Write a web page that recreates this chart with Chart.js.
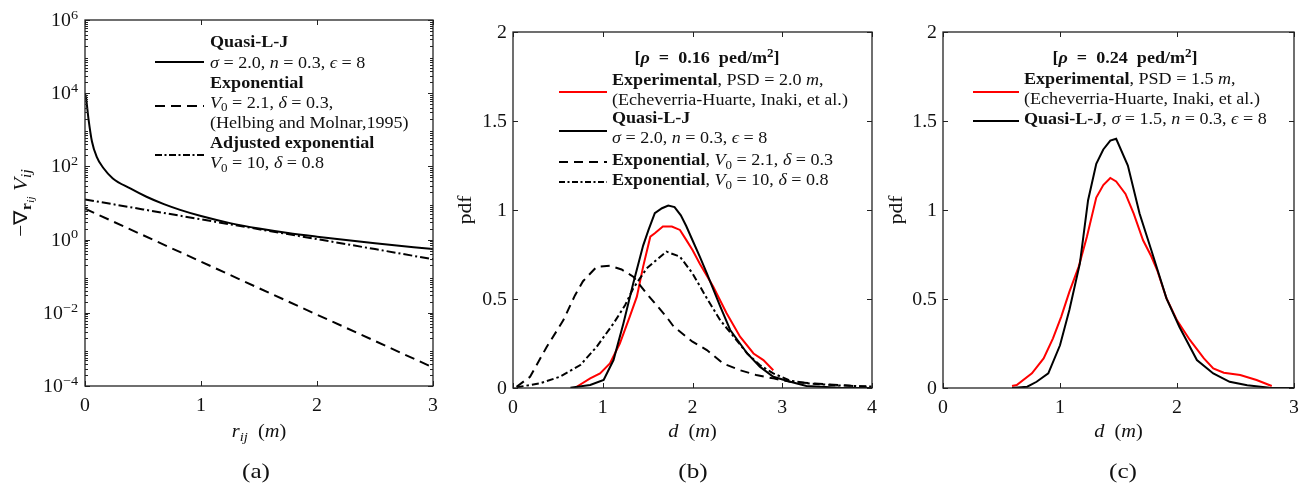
<!DOCTYPE html>
<html><head><meta charset="utf-8">
<script src="https://cdn.jsdelivr.net/npm/chart.js@4.4.0/dist/chart.umd.min.js"></script>
<style>
html,body{margin:0;padding:0;background:#fff;width:1311px;height:487px;overflow:hidden}
.p{position:absolute;top:0;height:487px}
</style></head><body>
<div class="p" style="left:0;width:440px"><canvas id="ca"></canvas></div>
<div class="p" style="left:440px;width:440px"><canvas id="cb"></canvas></div>
<div class="p" style="left:880px;width:431px"><canvas id="cc"></canvas></div>
<script>
// ---------- DATA ----------
// Panel (a): force vs distance (log y)
const rQuasiA   = [0, 0.01, 0.03, 0.06, 0.10, 0.16, 0.24, 0.39, 0.53, 0.68, 0.82, 1.00, 1.25, 1.50, 1.75, 2.00, 2.50, 3.00];
const vQuasiA   = [1e4, 7000, 2000, 480, 186, 89, 47, 25, 14.8, 9.3, 6.5, 4.4, 2.82, 2.0, 1.51, 1.2, 0.79, 0.55];
const rExpA     = [0, 0.5, 1.0, 1.5, 2.0, 2.5, 3.0];
const vExpA     = [7.0, 1.32, 0.25, 0.047, 0.0089, 0.0017, 0.00032];
const rAdjA     = [0, 0.5, 1.0, 1.5, 2.0, 2.5, 3.0];
const vAdjA     = [12.5, 6.69, 3.58, 1.92, 1.03, 0.55, 0.29];
const xTicksA   = [0, 1, 2, 3];
const yTicksA   = [1e-4, 1e-2, 1e0, 1e2, 1e4, 1e6];
const yExpLabelsA = ['−4', '−2', '0', '2', '4', '6'];

// Panel (b): rho = 0.16
const dExpB   = [0.71,0.86,0.97,1.08,1.19,1.30,1.38,1.45,1.53,1.58,1.67,1.77,1.86,1.93,2.00,2.08,2.23,2.38,2.53,2.68,2.79,2.90];
const pExpB   = [0.007,0.054,0.082,0.138,0.25,0.40,0.513,0.682,0.85,0.869,0.907,0.907,0.888,0.832,0.775,0.70,0.57,0.42,0.288,0.194,0.157,0.10];
const dQuasiB = [0.64,0.86,1.01,1.12,1.23,1.34,1.45,1.51,1.58,1.66,1.73,1.80,1.87,1.93,2.00,2.08,2.16,2.31,2.42,2.61,2.75,2.90,3.09,3.27,3.64,4.00];
const pQuasiB = [0.002,0.017,0.045,0.157,0.363,0.588,0.80,0.888,0.982,1.01,1.025,1.016,0.97,0.91,0.83,0.74,0.644,0.457,0.326,0.194,0.12,0.063,0.035,0.011,0.002,0.0];
const dE21B   = [0.04,0.19,0.375,0.56,0.69,0.78,0.93,1.08,1.21,1.34,1.49,1.71,1.79,2.00,2.16,2.34,2.53,2.71,2.90,3.09,3.46,3.94];
const pE21B   = [0.007,0.063,0.23,0.38,0.52,0.60,0.68,0.687,0.666,0.625,0.53,0.40,0.345,0.26,0.213,0.138,0.10,0.073,0.054,0.035,0.022,0.007];
const dE10B   = [0.04,0.30,0.52,0.75,0.93,1.12,1.25,1.34,1.49,1.60,1.71,1.86,2.00,2.16,2.31,2.46,2.61,2.75,2.90,3.09,3.30,3.60,4.00];
const pE10B   = [0.004,0.026,0.063,0.129,0.23,0.363,0.466,0.56,0.672,0.72,0.766,0.738,0.644,0.504,0.38,0.288,0.194,0.129,0.082,0.041,0.025,0.015,0.008];
const xTicksB = [0, 1, 2, 3, 4];
const yTicksB = [0, 0.5, 1, 1.5, 2];

// Panel (c): rho = 0.24
const dExpC   = [0.59,0.63,0.76,0.86,0.94,1.01,1.08,1.16,1.23,1.31,1.37,1.43,1.48,1.56,1.63,1.71,1.78,1.83,1.91,2.00,2.11,2.23,2.31,2.40,2.54,2.68,2.81];
const pExpC   = [0.011,0.017,0.082,0.166,0.279,0.40,0.54,0.682,0.85,1.07,1.14,1.18,1.16,1.09,0.98,0.83,0.74,0.663,0.504,0.38,0.27,0.166,0.11,0.086,0.073,0.045,0.011];
const dQuasiC = [0.59,0.72,0.80,0.90,1.00,1.08,1.17,1.24,1.31,1.37,1.43,1.48,1.58,1.68,1.78,1.91,2.02,2.17,2.31,2.45,2.60,2.79,3.00];
const pQuasiC = [0.0,0.007,0.035,0.082,0.24,0.438,0.70,1.055,1.26,1.34,1.39,1.40,1.25,0.98,0.775,0.504,0.344,0.157,0.082,0.035,0.015,0.002,0.0];
const xTicksC = [0, 1, 2, 3];
const yTicksC = [0, 0.5, 1, 1.5, 2];

// ---------- HELPERS ----------
const SERIF = '"Liberation Serif","Times New Roman",serif';
const TXT = '#111';
const SX = 1.13;
const RED = '#ff0000';
const BLK = '#000000';

function pts(xs, ys){ return xs.map((x,i)=>({x:x, y:ys[i]})); }

function segInfo(f, size){
  let s = size, dy = 0;
  if (f.indexOf('_')>=0){ s = size*0.72; dy = size*0.22; }
  if (f.indexOf('^')>=0){ s = size*0.72; dy = -size*0.40; }
  if (f.indexOf('~')>=0){ s = size*0.56; dy = size*0.36; }
  const font = (f.indexOf('i')>=0?'italic ':'') + (f.indexOf('b')>=0?'bold ':'') + s.toFixed(2)+'px '+SERIF;
  return {font:font, dy:dy};
}
function richW(ctx, segs, size, sx){
  let w = 0; ctx.save();
  for (const [t,f] of segs){ ctx.font = segInfo(f,size).font; w += ctx.measureText(t).width*sx; }
  ctx.restore(); return w;
}
function rich(ctx, x, y, segs, size, align, sx){
  sx = sx || SX;
  const w = richW(ctx, segs, size, sx);
  if (align === 'center') x -= w/2; else if (align === 'right') x -= w;
  ctx.save(); ctx.fillStyle = TXT; ctx.textBaseline = 'alphabetic'; ctx.textAlign = 'left';
  for (const [t,f] of segs){
    const si = segInfo(f,size); ctx.font = si.font;
    ctx.save(); ctx.translate(x, y+si.dy); ctx.scale(sx,1); ctx.fillText(t,0,0); ctx.restore();
    x += ctx.measureText(t).width*sx;
  }
  ctx.restore();
}
function sample(ctx, x1, x2, y, color, dash){
  ctx.save(); ctx.strokeStyle = color; ctx.lineWidth = 2; ctx.setLineDash(dash||[]);
  ctx.beginPath(); ctx.moveTo(x1,y); ctx.lineTo(x2,y); ctx.stroke(); ctx.restore();
}

const framePlugin = {
  id: 'frame',
  afterDraw(chart, args, o){
    const ctx = chart.ctx, a = chart.chartArea, xs = chart.scales.x, ys = chart.scales.y;
    ctx.save();
    ctx.strokeStyle = '#222'; ctx.lineWidth = 1;
    ctx.beginPath();
    const TL = 5, TM = 3;
    for (const v of o.xTicks){
      const px = Math.round(xs.getPixelForValue(v)) + 0.5;
      ctx.moveTo(px, a.bottom); ctx.lineTo(px, a.bottom - TL);
      ctx.moveTo(px, a.top); ctx.lineTo(px, a.top + TL);
    }
    for (const v of o.yTicks){
      const py = Math.round(ys.getPixelForValue(v)) + 0.5;
      ctx.moveTo(a.left, py); ctx.lineTo(a.left + TL, py);
      ctx.moveTo(a.right, py); ctx.lineTo(a.right - TL, py);
    }
    if (o.logMinor){
      for (let k = -4; k < 6; k++){
        for (let m = 2; m <= 9; m++){
          const py = Math.round(ys.getPixelForValue(m*Math.pow(10,k))) + 0.5;
          ctx.moveTo(a.left, py); ctx.lineTo(a.left + TM, py);
          ctx.moveTo(a.right, py); ctx.lineTo(a.right - TM, py);
        }
      }
    }
    ctx.stroke();
    ctx.lineWidth = 1.3;
    ctx.strokeRect(a.left, a.top, a.right - a.left, a.bottom - a.top);
    o.xTicks.forEach((v,i)=>{
      rich(ctx, xs.getPixelForValue(v), a.bottom + 25, o.xLabel(v,i), 18, 'center', 1.1);
    });
    o.yTicks.forEach((v,i)=>{
      rich(ctx, a.left - o.yGap, ys.getPixelForValue(v) + 6, o.yLabel(v,i), 18, 'right', 1.1);
    });
    o.decor(ctx, a);
    ctx.restore();
  }
};
Chart.register(framePlugin);

function lineDS(data, color, dash){
  return { data: data, borderColor: color, borderWidth: 2, borderDash: dash||[], pointRadius: 0,
           fill: false, tension: 0 };
}

function baseOpts(pad, xmin, xmax, yopts, frame){
  return {
    responsive: true, maintainAspectRatio: false, animation: false, devicePixelRatio: 1,
    layout: { padding: pad },
    scales: {
      x: { type: 'linear', min: xmin, max: xmax, display: false },
      y: Object.assign({ display: false }, yopts)
    },
    plugins: { legend: { display: false }, tooltip: { enabled: false }, frame: frame }
  };
}

// ---------- PANEL A ----------
const A_DASH = [10,6], A_DDOT = [9,3,2,3];
const dsQ = lineDS(pts(rQuasiA, vQuasiA), BLK, []); dsQ.cubicInterpolationMode = 'monotone';
new Chart(document.getElementById('ca'), {
  type: 'line',
  data: { datasets: [ dsQ, lineDS(pts(rExpA, vExpA), BLK, A_DASH), lineDS(pts(rAdjA, vAdjA), BLK, A_DDOT) ] },
  options: baseOpts({left:85, right:7, top:20, bottom:101}, 0, 3,
    { type: 'logarithmic', min: 1e-4, max: 1e6 },
    { xTicks: xTicksA, yTicks: yTicksA, logMinor: true, yGap: 7,
      xLabel: v => [[String(v), '']],
      yLabel: (v,i) => [['10',''], [yExpLabelsA[i], '^']],
      decor: function(ctx, a){
        ctx.save(); ctx.translate(27, (a.top + a.bottom)/2); ctx.rotate(-Math.PI/2);
        rich(ctx, 0, 0, [['−∇',''],['r','b_'],['ij','i~'],[' V','i'],['ij','i_']], 19, 'center');
        ctx.restore();
        rich(ctx, (a.left + a.right)/2, 437, [['r','i'],['ij','i_'],['  (',''],['m','i'],[')','']], 18, 'center');
        rich(ctx, 256, 478, [['(a)','']], 21, 'center', 1.2);
        const tx = 210, fs = 16;
        sample(ctx, 155, 204, 62, BLK, []);
        sample(ctx, 155, 204, 106, BLK, A_DASH);
        sample(ctx, 155, 204, 155, BLK, [7,2.5,2,2.5]);
        rich(ctx, tx, 47, [['Quasi-L-J','b']], fs);
        rich(ctx, tx, 67.5, [['σ','i'],[' = 2.0, ',''],['n','i'],[' = 0.3, ',''],['ϵ','i'],[' = 8','']], fs);
        rich(ctx, tx, 87.5, [['Exponential','b']], fs);
        rich(ctx, tx, 107.5, [['V','i'],['0','_'],[' = 2.1, ',''],['δ','i'],[' = 0.3,','']], fs);
        rich(ctx, tx, 127.5, [['(Helbing and Molnar,1995)','']], fs);
        rich(ctx, tx, 148, [['Adjusted exponential','b']], fs);
        rich(ctx, tx, 168, [['V','i'],['0','_'],[' = 10, ',''],['δ','i'],[' = 0.8','']], fs);
      }
    })
});

// ---------- PANEL B ----------
const B_DASH = [9,6], B_DDOT = [7,3,2.5,3];
new Chart(document.getElementById('cb'), {
  type: 'line',
  data: { datasets: [
    lineDS(pts(dE21B, pE21B), BLK, B_DASH),
    lineDS(pts(dE10B, pE10B), BLK, B_DDOT),
    lineDS(pts(dQuasiB, pQuasiB), BLK, []),
    lineDS(pts(dExpB, pExpB), RED, [])
  ] },
  options: baseOpts({left:73, right:8, top:32, bottom:99}, 0, 4,
    { type: 'linear', min: 0, max: 2 },
    { xTicks: xTicksB, yTicks: yTicksB, logMinor: false, yGap: 6,
      xLabel: v => [[String(v), '']],
      yLabel: v => [[String(v), '']],
      decor: function(ctx, a){
        ctx.save(); ctx.translate(31, (a.top + a.bottom)/2); ctx.rotate(-Math.PI/2);
        rich(ctx, 0, 0, [['pdf','']], 19, 'center');
        ctx.restore();
        rich(ctx, (a.left + a.right)/2, 437, [['d','i'],['  (',''],['m','i'],[')','']], 18, 'center');
        rich(ctx, 253, 478, [['(b)','']], 21, 'center', 1.2);
        const fs = 16, tx = 172;
        rich(ctx, 267, 63, [['[','b'],['ρ','bi'],['  =  0.16  ped/m','b'],['2','b^'],[']','b']], fs, 'center');
        sample(ctx, 119, 167, 92, RED, []);
        sample(ctx, 119, 167, 131, BLK, []);
        sample(ctx, 119, 167, 162, BLK, B_DASH);
        sample(ctx, 119, 167, 182, BLK, [6,2.5,2,2.5]);
        rich(ctx, tx, 85, [['Experimental','b'],[', PSD = 2.0 ',''],['m','i'],[',','']], fs);
        rich(ctx, tx, 105, [['(Echeverria-Huarte, Inaki, et al.)','']], fs);
        rich(ctx, tx, 123, [['Quasi-L-J','b']], fs);
        rich(ctx, tx, 143, [['σ','i'],[' = 2.0, ',''],['n','i'],[' = 0.3, ',''],['ϵ','i'],[' = 8','']], fs);
        rich(ctx, tx, 165, [['Exponential','b'],[', ',''],['V','i'],['0','_'],[' = 2.1, ',''],['δ','i'],[' = 0.3','']], fs);
        rich(ctx, tx, 185, [['Exponential','b'],[', ',''],['V','i'],['0','_'],[' = 10, ',''],['δ','i'],[' = 0.8','']], fs);
      }
    })
});

// ---------- PANEL C ----------
new Chart(document.getElementById('cc'), {
  type: 'line',
  data: { datasets: [
    lineDS(pts(dQuasiC, pQuasiC), BLK, []),
    lineDS(pts(dExpC, pExpC), RED, [])
  ] },
  options: baseOpts({left:63, right:17, top:32, bottom:99}, 0, 3,
    { type: 'linear', min: 0, max: 2 },
    { xTicks: xTicksC, yTicks: yTicksC, logMinor: false, yGap: 6,
      xLabel: v => [[String(v), '']],
      yLabel: v => [[String(v), '']],
      decor: function(ctx, a){
        ctx.save(); ctx.translate(22, (a.top + a.bottom)/2); ctx.rotate(-Math.PI/2);
        rich(ctx, 0, 0, [['pdf','']], 19, 'center');
        ctx.restore();
        rich(ctx, (a.left + a.right)/2, 437, [['d','i'],['  (',''],['m','i'],[')','']], 18, 'center');
        rich(ctx, 243, 478, [['(c)','']], 21, 'center', 1.2);
        const fs = 16, tx = 144;
        rich(ctx, 245, 63, [['[','b'],['ρ','bi'],['  =  0.24  ped/m','b'],['2','b^'],[']','b']], fs, 'center');
        sample(ctx, 93, 139, 92, RED, []);
        sample(ctx, 93, 139, 121, BLK, []);
        rich(ctx, tx, 84, [['Experimental','b'],[', PSD = 1.5 ',''],['m','i'],[',','']], fs);
        rich(ctx, tx, 104, [['(Echeverria-Huarte, Inaki, et al.)','']], fs);
        rich(ctx, tx, 124, [['Quasi-L-J','b'],[', ',''],['σ','i'],[' = 1.5, ',''],['n','i'],[' = 0.3, ',''],['ϵ','i'],[' = 8','']], fs);
      }
    })
});
</script>
</body></html>
